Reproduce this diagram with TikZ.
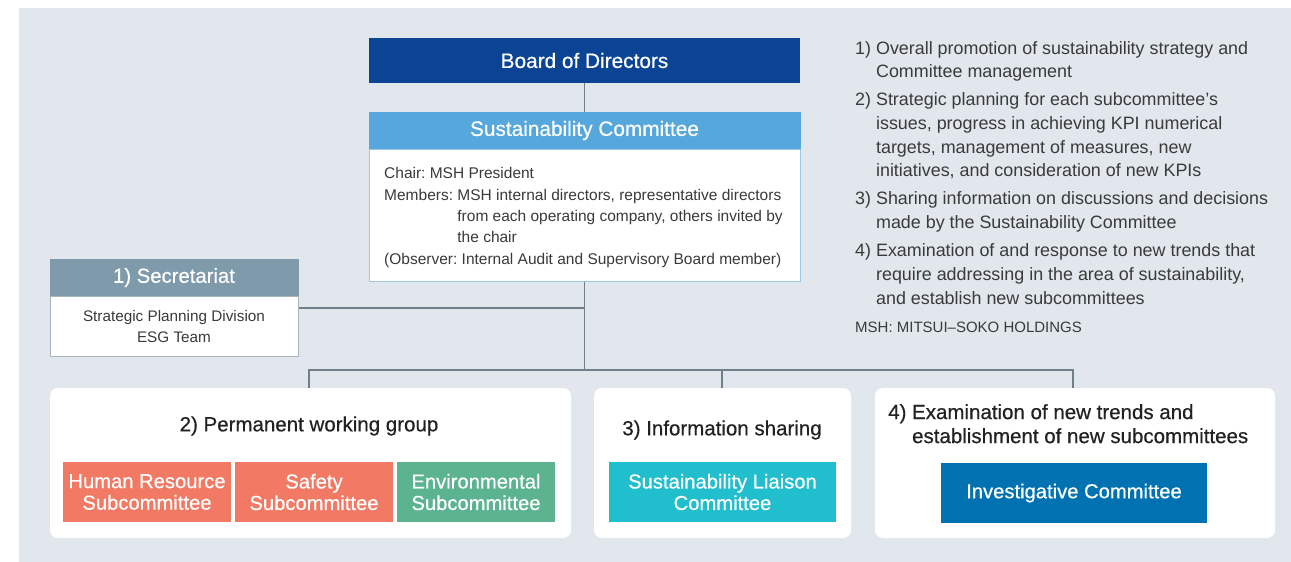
\documentclass[tikz,border=0pt]{standalone}
\usepackage{fontspec}
\setmainfont{Liberation Sans}
\newfontfamily\medfont{Liberation Sans}[FakeBold=0.5]
\definecolor{bgc}{HTML}{E1E7EC}
\definecolor{bodc}{HTML}{0B4494}
\definecolor{schc}{HTML}{55A7DC}
\definecolor{scbc}{HTML}{9CC8E8}
\definecolor{sechc}{HTML}{7F9BAB}
\definecolor{secbc}{HTML}{A8B4BC}
\definecolor{hrc}{HTML}{F27A64}
\definecolor{envc}{HTML}{5BB38F}
\definecolor{liac}{HTML}{21BECE}
\definecolor{invc}{HTML}{0072B1}
\definecolor{txtc}{HTML}{3A3A3A}
\definecolor{ttlc}{HTML}{222222}
\definecolor{linec}{HTML}{70808A}
\tikzset{
  head/.style={inner sep=0pt, text=white, font=\medfont\fontsize{20.8}{24}\selectfont, align=center},
  subbox/.style={inner sep=0pt, minimum height=60pt, text=white, font=\medfont\fontsize{20.2}{21.5}\selectfont, align=center},
  panel/.style={fill=white, rounded corners=8pt, minimum height=150pt, inner sep=0pt},
  ptitle/.style={text=ttlc, font=\medfont\fontsize{20.5}{24}\selectfont, inner sep=0pt},
  body/.style={text=txtc, inner sep=0pt},
  conn/.style={draw=linec, line width=1.2pt},
}
\begin{document}
\frenchspacing
\begin{tikzpicture}[x=1pt,y=-1pt]
\useasboundingbox (0,0) rectangle (1291,562);
\fill[bgc] (19,8) rectangle (1291,562);
% Board
\node[head, fill=bodc, minimum width=431pt, minimum height=45pt] (bod) at (584.5,60.5) {Board of Directors};
% Sustainability committee
\node[fill=white, draw=scbc, line width=1pt, minimum width=431pt, minimum height=132pt, inner sep=0pt] (scb) at (584.5,215) {};
\node[head, fill=schc, minimum width=432pt, minimum height=37pt] (sch) at (584.5,130.5) {Sustainability Committee};
\node[body, anchor=north west, align=left, font=\fontsize{15.5}{21.3}\selectfont] (sct) at (384,167.5)
 {Chair: MSH President\\
  Members: MSH internal directors, representative directors\\
  \phantom{Members: }from each operating company, others invited by\\
  \phantom{Members: }the chair\\
  (Observer: Internal Audit and Supervisory Board member)};
% Secretariat
\node[fill=white, draw=secbc, line width=1pt, minimum width=248pt, minimum height=60pt, inner sep=0pt] (secb) at (174,326) {};
\node[head, fill=sechc, minimum width=249pt, minimum height=37pt, font=\medfont\fontsize{20.3}{24}\selectfont] (sech) at (174,277.5) {1) Secretariat};
\node[body, align=center, font=\fontsize{15.3}{21}\selectfont] (sect) at (174,327) {Strategic Planning Division\\ESG Team};
% Right text
\node[body, anchor=north west, align=left, font=\fontsize{17.9}{23.7}\selectfont] (notes) at (855,41)
 {1) Overall promotion of sustainability strategy and\\
  \phantom{1) }Committee management\\[4.3pt]
  2) Strategic planning for each subcommittee’s\\
  \phantom{2) }issues, progress in achieving KPI numerical\\
  \phantom{2) }targets, management of measures, new\\
  \phantom{2) }initiatives, and consideration of new KPIs\\[4.3pt]
  3) Sharing information on discussions and decisions\\
  \phantom{3) }made by the Sustainability Committee\\[4.3pt]
  4) Examination of and response to new trends that\\
  \phantom{4) }require addressing in the area of sustainability,\\
  \phantom{4) }and establish new subcommittees};
\node[body, anchor=base west, font=\fontsize{15}{16}\selectfont] (msh) at (855,332) {MSH: MITSUI–SOKO HOLDINGS};
% Panels
\node[panel, minimum width=521pt] (p2) at (310.5,463) {};
\node[panel, minimum width=257pt] (p3) at (722.5,463) {};
\node[panel, minimum width=400pt] (p4) at (1075,463) {};
\node[ptitle] (p2t) at (309,426) {2) Permanent working group};
\node[ptitle] (p3t) at (722,430) {3) Information sharing};
\node[ptitle, anchor=north west, align=left] (p4t) at (888,404)
 {4) Examination of new trends and\\\phantom{4) }establishment of new subcommittees};
\node[subbox, fill=hrc, minimum width=168pt] (hr) at (147,492) {Human Resource\\Subcommittee};
\node[subbox, fill=hrc, minimum width=158pt] (saf) at (314,492) {Safety\\Subcommittee};
\node[subbox, fill=envc, minimum width=158pt] (env) at (476,492) {Environmental\\Subcommittee};
\node[subbox, fill=liac, minimum width=227pt] (lia) at (722.5,492) {Sustainability Liaison\\Committee};
\node[subbox, fill=invc, minimum width=266pt] (inv) at (1074,493) {Investigative Committee};
% Connectors
\coordinate (j1) at (584.5,308);
\coordinate (bus) at (584.5,370);
\draw[conn] (bod.south) -- (sch.north);
\draw[conn] (scb.south) -- (bus);
\draw[conn] (j1) -- (j1 -| secb.east);
\draw[conn] (p2.north -| 309,0) |- (bus) -| (p4.north -| 1073,0);
\draw[conn] (bus -| 722,0) -- (p3.north -| 722,0);
\end{tikzpicture}
\end{document}
